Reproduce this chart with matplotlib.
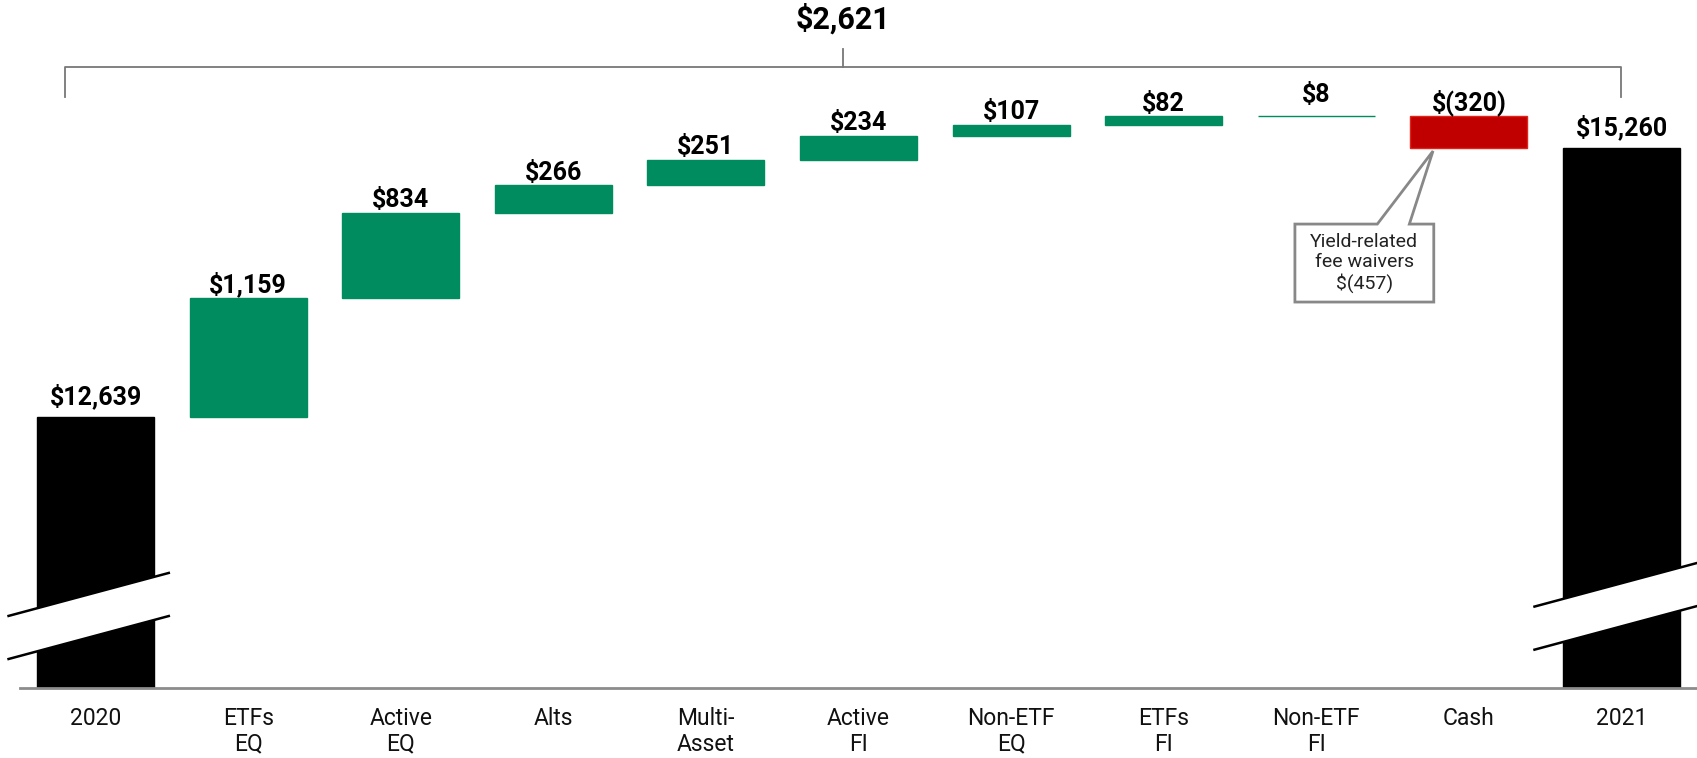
import matplotlib.pyplot as plt
from matplotlib.patches import Polygon
import numpy as np

# waterfall data ($ millions)
categories = ["2020", "ETFs\nEQ", "Active\nEQ", "Alts", "Multi-\nAsset", "Active\nFI",
              "Non-ETF\nEQ", "ETFs\nFI", "Non-ETF\nFI", "Cash", "2021"]
start_total = 12639
changes = [1159, 834, 266, 251, 234, 107, 82, 8, -320]
end_total = 15260
value_labels = ["$12,639", "$1,159", "$834", "$266", "$251", "$234", "$107", "$82",
                "$8", "$(320)", "$15,260"]
bracket_label = "$2,621"
callout_text = "Yield-related\nfee waivers\n$(457)"

axis_floor = 10000  # broken axis, bars start here

green = "#008c5f"
red = "#c00000"
plt.rcParams['font.family'] = ['Roboto', 'DejaVu Sans']

fig = plt.figure(figsize=(16.97, 7.58), dpi=100)
ax = fig.add_axes([20 / 1697, 70 / 758, 1677 / 1697, 688 / 758])
ax.set_xlim(-0.495, 10.495)
ax.set_ylim(axis_floor, 16706)
ax.axis("off")

x = np.arange(len(categories))
w = 0.767

# running totals
cum = start_total + np.cumsum([0] + changes)
bottoms, heights, colors = [axis_floor], [start_total - axis_floor], ["black"]
for i, c in enumerate(changes):
    lo = min(cum[i], cum[i + 1])
    bottoms.append(lo)
    heights.append(abs(c))
    colors.append(green if c > 0 else red)
bottoms.append(axis_floor)
heights.append(end_total - axis_floor)
colors.append("black")

edges = ["black"] + [green if c > 0 else "#e2231a" for c in changes] + ["black"]
ax.bar(x, heights, bottom=bottoms, width=w, color=colors, edgecolor=edges, linewidth=1)

# value labels
for i in range(len(x)):
    top = bottoms[i] + heights[i]
    off = 0.5
    if i in (0, len(x) - 1):
        off = 6
    elif i == 8:
        off = 6
    elif i == 9:
        off = 0
    ax.annotate(value_labels[i], (x[i], top), xytext=(0, off), textcoords="offset points",
                ha="center", va="bottom", fontsize=18, fontweight="bold", color="black")

# baseline
ax.axhline(axis_floor, color="#8c8c8c", lw=2, clip_on=False)

# category labels
for i, lab in enumerate(categories):
    ax.annotate(lab, (x[i], axis_floor), xytext=(0, -14), textcoords="offset points",
                ha="center", va="top", fontsize=16.5, linespacing=1.12, color="#111111")

# axis break marks on total bars
slope = 399
gap = 420
for i, yc in ((0, 10720), (len(x) - 1, 10811)):
    xs = np.array([x[i] - 0.57, x[i] + 0.48])
    y_lo = yc - gap / 2 + slope * (xs - x[i])
    y_hi = yc + gap / 2 + slope * (xs - x[i])
    if i == len(x) - 1:
        xs = np.array([x[i] - 0.57, x[i] + 0.6])
        y_lo = yc - gap / 2 + slope * (xs - x[i])
        y_hi = yc + gap / 2 + slope * (xs - x[i])
    band = Polygon([[xs[0], y_lo[0]], [xs[1], y_lo[1]], [xs[1], y_hi[1]], [xs[0], y_hi[0]]],
                   closed=True, facecolor="white", edgecolor="none", clip_on=False, zorder=3)
    ax.add_patch(band)
    ax.plot(xs, y_lo, color="black", lw=1.8, clip_on=False, zorder=4)
    ax.plot(xs, y_hi, color="black", lw=1.8, clip_on=False, zorder=4)

# bracket over total change
bx0, bx1 = x[0] - 0.2, x[-1]
by, bdrop = 16053, 15760
ax.plot([bx0, bx0, bx1, bx1], [bdrop, by, by, bdrop], color="#777777", lw=1.3, clip_on=False)
bmid = (bx0 + bx1) / 2
ax.plot([bmid, bmid], [by, 16228], color="#777777", lw=1.3)
ax.text(bmid, 16370, bracket_label, ha="center", va="bottom", fontsize=22, fontweight="bold")

# callout for cash bar
ci = 9
tip_x, tip_y = x[ci] - 0.235, bottoms[ci] - 26
bl, br = x[ci] - 1.14, x[ci] - 0.23
bt, bb = 14522, 13762
callout = Polygon([[bl, bt], [x[ci] - 0.6, bt], [tip_x, tip_y], [x[ci] - 0.39, bt],
                   [br, bt], [br, bb], [bl, bb]], closed=True,
                  facecolor="white", edgecolor="#888888", lw=2, zorder=5)
ax.add_patch(callout)
ax.text((bl + br) / 2, (bt + bb) / 2, callout_text, ha="center", va="center",
        fontsize=14, linespacing=1.15, color="#222222", zorder=6)

fig.savefig("out.png", dpi=100)
